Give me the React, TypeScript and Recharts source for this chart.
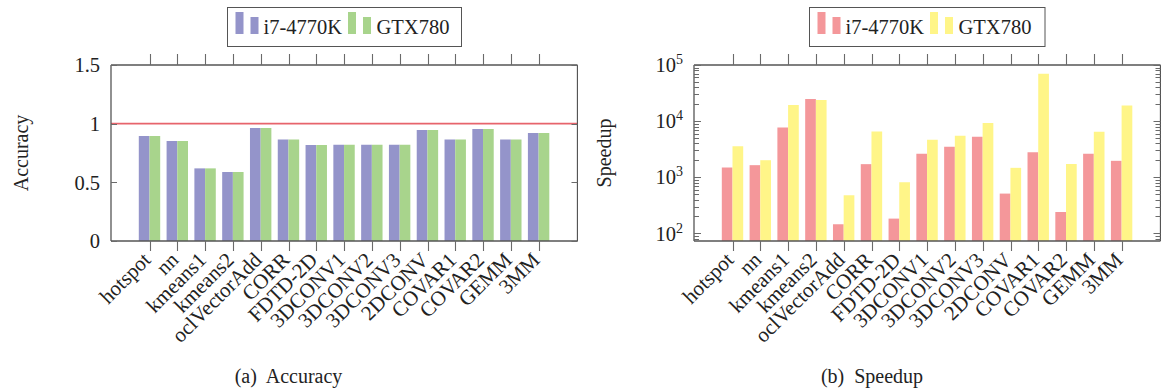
import React from 'react';
import { BarChart, Bar, XAxis, YAxis, ReferenceLine } from 'recharts';

const categories = ['hotspot', 'nn', 'kmeans1', 'kmeans2', 'oclVectorAdd', 'CORR', 'FDTD-2D', '3DCONV1', '3DCONV2', '3DCONV3', '2DCONV', 'COVAR1', 'COVAR2', 'GEMM', '3MM'];
const seriesNames = ['i7-4770K', 'GTX780'];
const accuracyCPU = [0.895, 0.852, 0.619, 0.588, 0.963, 0.864, 0.818, 0.821, 0.821, 0.821, 0.946, 0.866, 0.955, 0.864, 0.92];
const accuracyGPU = [0.895, 0.852, 0.619, 0.588, 0.963, 0.864, 0.818, 0.821, 0.821, 0.821, 0.946, 0.866, 0.955, 0.864, 0.92];
const speedupCPU = [1490, 1640, 7700, 24700, 145, 1710, 183, 2610, 3480, 5250, 511, 2800, 240, 2610, 1960];
const speedupGPU = [3580, 2010, 19300, 23700, 477, 6530, 814, 4640, 5470, 9210, 1470, 70000, 1720, 6450, 19000];
const accuracyTicks = [0, 0.5, 1, 1.5];
const speedupMajorTicks = [100, 1000, 10000, 100000];
const speedupDomain: [number, number] = [73, 100000];
const captions = ['(a)  Accuracy', '(b)  Speedup'];
const yLabels = ['Accuracy', 'Speedup'];

const FONT = '"Liberation Serif", "Times New Roman", serif';
const TEXT = '#222';
const FRAME = '#555';
const TICKC = '#6a6a6a';
const C_BLUE = '#9494ca';
const C_GREEN = '#a8d48c';
const C_RED = '#f4979a';
const C_YELLOW = '#fff588';

const CH_W = 578;
const CH_H = 391;
const PL = 111;
const PR = 577.5;
const PT = 65;
const PB = 241;
const YW = 60;
const RW = 0.5;
const MARGIN = { top: PT, left: PL - YW, right: CH_W - PR - RW, bottom: 50 };
const XPAD = { left: 24.8, right: 24.8 };

const accData = categories.map((name, i) => ({ name, cpu: accuracyCPU[i], gpu: accuracyGPU[i] }));
const spdData = categories.map((name, i) => ({ name, cpu: speedupCPU[i], gpu: speedupGPU[i] }));

const speedupTicks: number[] = [];
[80, 90].forEach((v) => speedupTicks.push(v));
speedupMajorTicks.forEach((m, k) => {
  speedupTicks.push(m);
  if (k < speedupMajorTicks.length - 1) {
    for (let j = 2; j <= 9; j++) speedupTicks.push(m * j);
  }
});

const CatTick = (props: any) => {
  const { x, payload } = props;
  const xr = Math.round(x) + 0.5;
  const px = x - 3;
  const py = PB + 15;
  return (
    <g>
      <path d={`M${xr},${PT - 11}L${xr},${PT}M${xr},${PB}L${xr},${PB + 10}`} stroke={TICKC} strokeWidth={1.1} fill="none" />
      <text x={px} y={py} dy="0.35em" textAnchor="end" transform={`rotate(-45 ${px} ${py})`}
        fontSize={21} fontFamily={FONT} fill={TEXT} stroke="none">{payload.value}</text>
    </g>
  );
};

const AccTick = (props: any) => {
  const { y, payload } = props;
  const yr = Math.round(y) + 0.5;
  return (
    <g>
      <path d={`M${PL},${yr}L${PL + 6},${yr}M${PR - 6},${yr}L${PR},${yr}`} stroke={TICKC} strokeWidth={1.1} fill="none" />
      <text x={PL - 11} y={y} dy="0.35em" textAnchor="end" fontSize={20.5} fontFamily={FONT} fill={TEXT} stroke="none">
        {String(payload.value)}
      </text>
    </g>
  );
};

const LogTick = (props: any) => {
  const { y, payload } = props;
  const v = payload.value as number;
  const e = Math.log10(v);
  const major = Math.abs(e - Math.round(e)) < 1e-9;
  const len = major ? 7 : 5;
  const yr = Math.round(y) + 0.5;
  return (
    <g>
      <path d={`M${PL},${yr}L${PL + len},${yr}M${PR - len},${yr}L${PR},${yr}`} stroke={TICKC} strokeWidth={1} fill="none" />
      {major && (
        <text x={PL - 11} y={y} dy="0.35em" textAnchor="end" fontSize={20.5} fontFamily={FONT} fill={TEXT} stroke="none">
          10<tspan dy={-8} fontSize={14}>{Math.round(e)}</tspan>
        </text>
      )}
    </g>
  );
};

const YTitle = ({ text }: { text: string }) => (
  <text x={20.5} y={(PT + PB) / 2} textAnchor="middle" dominantBaseline="central"
    transform={`rotate(-90 20.5 ${(PT + PB) / 2})`} fontSize={20} fontFamily={FONT} fill={TEXT}>{text}</text>
);

const Legend2 = ({ left, width, colors }: { left: number; width: number; colors: string[] }) => (
  <svg style={{ position: 'absolute', left, top: 6.5, overflow: 'visible' }} width={width} height={40}>
    <rect x={0.5} y={0.5} width={width - 1} height={39} fill="#fff" stroke={FRAME} strokeWidth={1} />
    <rect x={8.5} y={5} width={8} height={22} fill={colors[0]} />
    <rect x={23.5} y={10} width={8} height={17} fill={colors[0]} />
    <text x={36.5} y={27} fontSize={20.5} fontFamily={FONT} fill={TEXT}>{seriesNames[0]}</text>
    <rect x={121} y={5} width={8} height={22} fill={colors[1]} />
    <rect x={136} y={10} width={8} height={17} fill={colors[1]} />
    <text x={149.5} y={27} fontSize={20.5} fontFamily={FONT} fill={TEXT}>{seriesNames[1]}</text>
  </svg>
);

const frameLine = { stroke: FRAME, strokeWidth: 1.3 };

const AccuracyChart = () => (
  <BarChart width={CH_W} height={CH_H} data={accData} margin={MARGIN} barGap={0} barSize={10.7}
    style={{ overflow: 'visible' }}>
    <XAxis dataKey="name" interval={0} padding={XPAD} height={100} tickSize={0} tickLine={false}
      axisLine={frameLine} tick={<CatTick />} />
    <YAxis width={YW} domain={[0, 1.5]} ticks={accuracyTicks} interval={0} tickLine={false} tickSize={0}
      axisLine={frameLine} tick={<AccTick />} />
    <YAxis yAxisId="r" orientation="right" width={RW} domain={[0, 1]} tick={false} tickLine={false}
      axisLine={frameLine} />
    <ReferenceLine y={1.5} stroke={FRAME} strokeWidth={1.3} />
    <ReferenceLine y={1} stroke="#e7646c" strokeWidth={1.6} />
    <Bar dataKey="cpu" fill={C_BLUE} isAnimationActive={false} />
    <Bar dataKey="gpu" fill={C_GREEN} isAnimationActive={false} />
  </BarChart>
);

const SpeedupChart = () => (
  <BarChart width={CH_W} height={CH_H} data={spdData} margin={MARGIN} barGap={0} barSize={10.7}
    style={{ overflow: 'visible' }}>
    <XAxis dataKey="name" interval={0} padding={XPAD} height={100} tickSize={0} tickLine={false}
      axisLine={frameLine} tick={<CatTick />} />
    <YAxis width={YW} scale="log" domain={speedupDomain} allowDataOverflow ticks={speedupTicks} interval={0}
      tickLine={false} tickSize={0} axisLine={frameLine} tick={<LogTick />} />
    <YAxis yAxisId="r" orientation="right" width={RW} domain={[0, 1]} tick={false} tickLine={false}
      axisLine={frameLine} />
    <ReferenceLine y={speedupDomain[1]} stroke={FRAME} strokeWidth={1.3} />
    <Bar dataKey="cpu" fill={C_RED} isAnimationActive={false} />
    <Bar dataKey="gpu" fill={C_YELLOW} isAnimationActive={false} />
  </BarChart>
);

export default function App() {
  return (
    <div style={{ position: 'fixed', left: 0, top: 0, width: 1161, height: 391, background: '#fff', overflow: 'hidden' }}>
      <div style={{ position: 'absolute', left: 0, top: 0 }}>
        <AccuracyChart />
        <svg style={{ position: 'absolute', left: 0, top: 0, pointerEvents: 'none' }} width={60} height={CH_H}>
          <YTitle text={yLabels[0]} />
        </svg>
      </div>
      <div style={{ position: 'absolute', left: 583.3, top: 0 }}>
        <SpeedupChart />
        <svg style={{ position: 'absolute', left: 0, top: 0, pointerEvents: 'none' }} width={60} height={CH_H}>
          <YTitle text={yLabels[1]} />
        </svg>
      </div>
      <Legend2 left={226.7} width={235} colors={[C_BLUE, C_GREEN]} />
      <Legend2 left={809.3} width={236.5} colors={[C_RED, C_YELLOW]} />
      <div style={{ position: 'absolute', left: 0, width: 577, top: 364, textAlign: 'center', fontFamily: FONT,
        fontSize: 20, color: TEXT, whiteSpace: 'pre', lineHeight: '24px' }}>{captions[0]}</div>
      <div style={{ position: 'absolute', left: 583, width: 578, top: 364, textAlign: 'center', fontFamily: FONT,
        fontSize: 20, color: TEXT, whiteSpace: 'pre', lineHeight: '24px' }}>{captions[1]}</div>
    </div>
  );
}
